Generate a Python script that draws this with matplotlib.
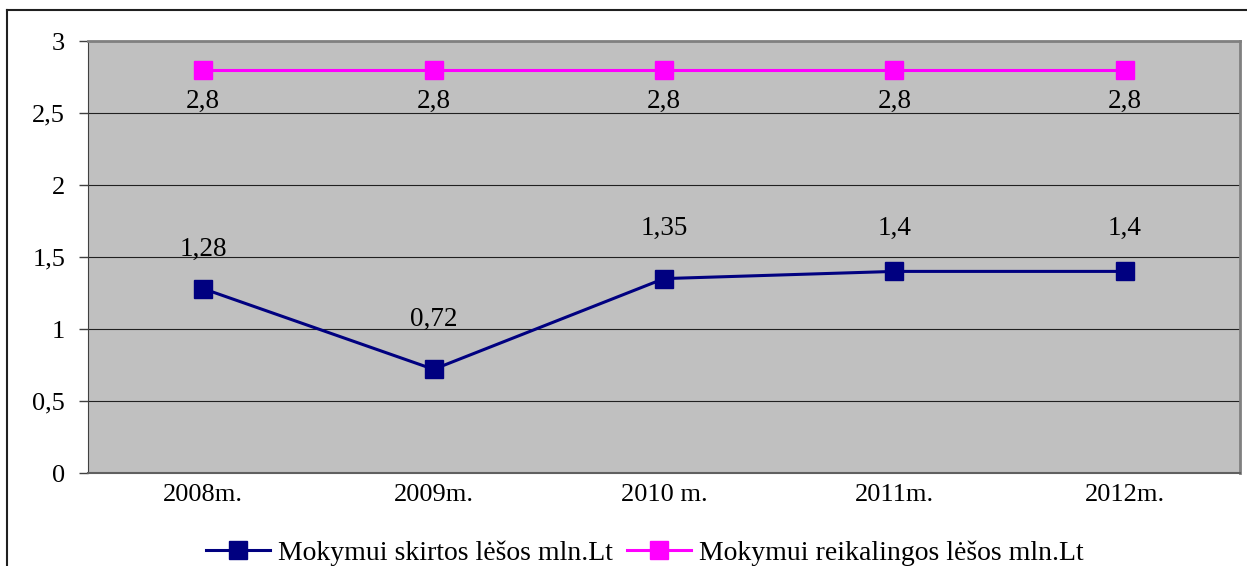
import matplotlib.pyplot as plt
import numpy as np

years = ['2008m.', '2009m.', '2010 m.', '2011m.', '2012m.']
skirtos = [1.28, 0.72, 1.35, 1.4, 1.4]
reikalingos = [2.8, 2.8, 2.8, 2.8, 2.8]
skirtosLabels = ['1,28', '0,72', '1,35', '1,4', '1,4']
reikalingosLabels = ['2,8', '2,8', '2,8', '2,8', '2,8']

plt.rcParams['font.family'] = ['Liberation Serif', 'DejaVu Serif']

fig = plt.figure(figsize=(12.47, 5.66), dpi=100)
ax = fig.add_axes([88/1247, 1 - 473/566, 1152/1247, 432/566])
x = np.arange(len(years))

ax.set_facecolor('#c0c0c0')
ax.plot(x, skirtos, color='#000080', lw=2.2, marker='s', markersize=13,
		label='Mokymui skirtos lėšos mln.Lt', zorder=3)
ax.plot(x, reikalingos, color='#ff00ff', lw=2.2, marker='s', markersize=13,
		label='Mokymui reikalingos lėšos mln.Lt', zorder=3)

# label offsets above the markers (points), as placed in the original
upOffsets = [28, 36, 36, 31, 31]
for xi, v, t, dy in zip(x, skirtos, skirtosLabels, upOffsets):
	ax.annotate(t, (xi, v), xytext=(0, dy), textcoords='offset points',
				ha='center', va='center', fontsize=19.5)
for xi, v, t in zip(x, reikalingos, reikalingosLabels):
	ax.annotate(t, (xi, v), xytext=(0, -23), textcoords='offset points',
				ha='center', va='center', fontsize=19.5)

ax.set_xlim(-0.5, 4.5)
ax.set_ylim(0, 3)
ax.set_yticks([0, 0.5, 1, 1.5, 2, 2.5, 3])
ax.set_yticklabels(['0', '0,5', '1', '1,5', '2', '2,5', '3'], fontsize=19)
ax.set_xticks(x)
ax.set_xticklabels(years, fontsize=19)
ax.tick_params(axis='x', length=0, pad=8)
ax.tick_params(axis='y', length=6.5, width=1, color='#404040', pad=10)
ax.yaxis.grid(True, color='#202020', lw=0.8)
ax.set_axisbelow(True)
for s in ['top', 'right']:
	ax.spines[s].set_color('#808080')
	ax.spines[s].set_linewidth(2)
ax.spines['bottom'].set_color('#606060')
ax.spines['bottom'].set_linewidth(1.5)
ax.spines['left'].set_color('#404040')

ax.legend(loc='center', bbox_to_anchor=(645/1247, 1 - 553/566), bbox_transform=fig.transFigure,
		  ncol=2, frameon=False, fontsize=20, handlelength=2.3, columnspacing=0.5, handletextpad=0.3)

# outer chart frame
fig.add_artist(plt.Line2D([7/1247, 7/1247], [0, 1 - 10/566], color='#202020', lw=1.5,
						  transform=fig.transFigure))
fig.add_artist(plt.Line2D([7/1247, 1], [1 - 10/566, 1 - 10/566], color='#202020', lw=1.5,
						  transform=fig.transFigure))

fig.savefig('out.png', dpi=100)
